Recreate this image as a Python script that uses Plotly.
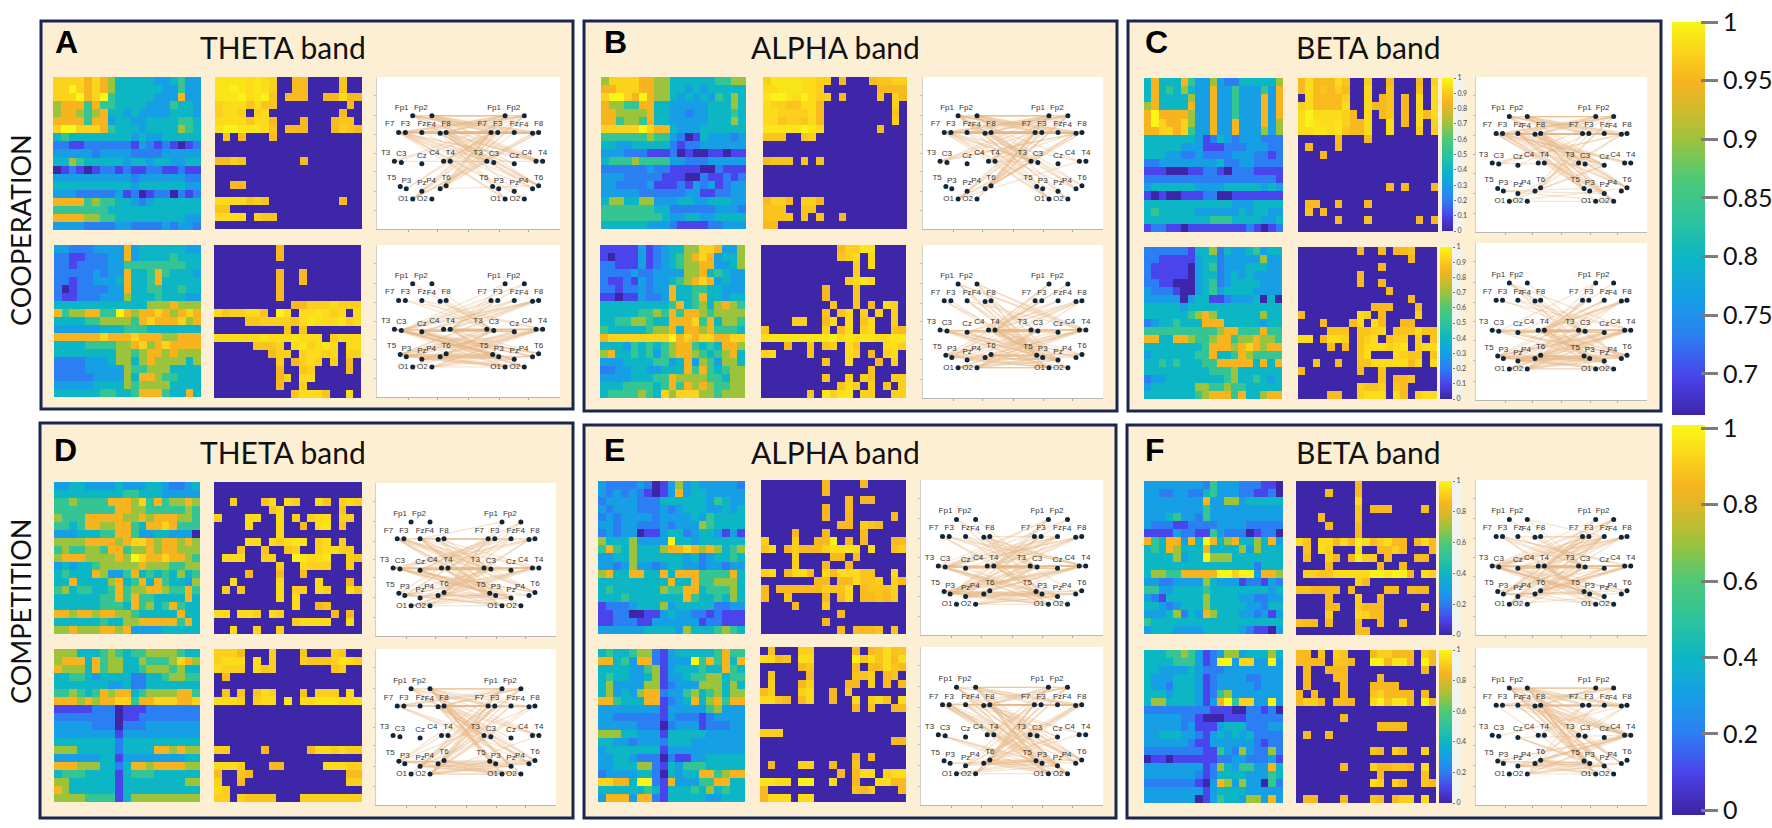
import plotly.graph_objects as go

W, H = 1772, 828

ELECTRODES = ["Fp1","Fp2","F7","F3","Fz","F4","F8","T3","C3","Cz","C4","T4","T5","P3","Pz","P4","T6","O1","O2"]
ELEC_X = [0.195,0.300,0.118,0.155,0.245,0.345,0.378,0.095,0.133,0.245,0.364,0.400,0.127,0.160,0.245,0.345,0.378,0.195,0.300]
ELEC_Y = [0.745,0.745,0.635,0.635,0.635,0.630,0.635,0.445,0.438,0.430,0.445,0.445,0.280,0.265,0.248,0.265,0.285,0.198,0.198]
ELEC_LABEL_POS = ["top left","top left","top left","top center","top center","top left","top center","top left","top center","top center","top left","top center","top left","top center","top center","top left","top center","middle left","middle left"]
RIGHT_SHIFT = 0.505

A_top_values = ["8888787644444334533","8898787644444433533","8889789544444333733","6777575544443335443","6776567443433334443","7777577344334444554","8998887544434444654","4544444444343344444","2211222222132121012","3333323333222233333","4465444443443443344","0121012212112211211","3333333333233333322","4444444444344444433","3332222231201220212","7777565544323444444","5555555444444444444","7777665544444444433","3333222233222232332"]
A_top_mask = ["1111111100110000100","1111111100110000100","1111111101110011111","1111111100000000010","1111011000000000100","1111111100010001110","1111111101110001111","0101000100000000000","0000000000000000000","0000000000000000000","1111000000010000000","0000000000000000000","0000000000000000000","0011000000000000000","0000000000000000000","1111111000000000100","1100000000000000000","1111011100000000000","0000000000000000000"]
A_bot_values = ["3322233337344444433","2211222337344445444","2212222335555555544","2222232337445754443","2212233347445744444","2012222337445544544","2112223336444544433","4444444444446667666","7566775597677876787","4444556666578777867","3333334445554444444","7777778777877766777","4444555566786787777","4444444466567767666","2222333466467666646","2222333336556664444","2222233336477655444","3333344446566664444","4444445544577754474"]
A_bot_mask = ["0000000010000000000","0000000010000000000","0000000000000000000","0000000010010000000","0000000010010000000","0000000010000000000","0000000010000000000","0000000000111111111","1111111011011111101","0000111111111111111","0000000001010000000","1111111111111101111","0000011110111111011","0000000111011111011","0000000010111101010","0000000010011000010","0000000011011000000","0000000010010000000","0000000000111110010"]

B_top_values = ["6888877664444445566","7788877664434344444","8998797664343435464","7665577443333344464","7766667443323344454","7756657443333344464","8888898774333444444","5555556553201433323","4433444442122333333","3332221112010011011","4555655553322233333","2222223221111002111","3332222211100211212","3322223111213231233","3333322222233112233","4664466333443344433","5555555442222223332","5555555543344334444","4444443332111122333"]
B_top_mask = ["1111111110100011111","1111111100000001111","1111111110100001011","1111111100000000010","1111111100000000010","1111111100000000010","1111111100000001000","1110011000000000000","0000000000000000000","0000000000000000000","1111010100000000000","0000000000000000000","0000000000000000000","0000000000000000000","0000000000000000000","1111011100000000000","1110011000000000000","1111010100100000000","1100000000000000000"]
B_bot_values = ["1111131234466887336","1011131234567873446","2211131234566773346","2222322333366745433","2112132334567873433","2212232337445544333","1101132237445744344","4444444445745646765","4444455657577656666","4455665447778574665","5444445667477675554","7888888889787887788","4443545456775454776","6744545356776545674","3334444553473653664","2233443344475754566","3333444557666655466","4445555457576765566","4555565486888665666"]
B_bot_mask = ["0000000000111110000","0000000000111010000","0000000000001010000","0000000000001000000","0000000000011110000","0000000010001000000","0000000010001000000","0000000001001010110","0000000010110101010","0000110011010110010","1000000010110110011","1111111111111111111","0001001011011000111","1100001000011010110","0000000010010001010","0000000000000010000","0000000010010110011","0000000000111010101","0000001011110110011"]

C_top_values = ["4744475336322444446","4745464337335333537","4744446337335333737","6744447337335333737","7977776337335333737","7987786337337333736","7788785337337333636","4444444312432333222","4444433311122233322","4443322322223332212","2233333333422332222","1110001122102221111","2222222222222222221","3444444333344444343","1010011122001111111","4444444444443334444","4544444333333434433","4444444445554444334","1221101111111121012"]
C_top_mask = ["1111111001001000101","1111111001001000101","0111111001011010101","1111111001111010101","1111111101011010111","1111111111001010101","1111111111001000101","0000010001000000000","0100010000000000000","0001000000000000000","0000000000000000000","0000000000000000000","0000000000000000000","0000000000001010001","0000000000000000000","0110010001000000000","0101000000000000000","0000010001000000101","0000000000000000000"]
C_bot_values = ["2222221446243345344","2211111344233333633","2111110345233344433","2111110344234343333","2211000345234444333","3222100345344443333","3333303441123334040","4444434444444444444","4444445676444444644","2344544477744444344","5555555555677555755","7744776556775667665","4444444457776787677","3444444557445765555","4454544455777774747","4444444445556444444","2334444444456445434","3444444665565544444","4444444567775744677"]
C_bot_mask = ["0000000010010111000","0000000000000001000","0000000000010000000","0000000010000000000","0000000010010000000","0000000000001000000","0000000000000001000","0000000000111000100","1000000011010000100","0001000110110011000","0000111011110111111","1101111011101110101","0000101011111110111","0000000011000111101","0010010011111111101","1000000010010000000","0000000000010111000","0000000011110110000","0000110011110110111"]

D_top_values = ["3344333343334432234","4444444445544433333","5565555777685756676","5555555577665555565","6555777776676777665","5545776677547787555","3334445577533443330","6666777767887677676","5655665775667677666","6777666676987787765","3434456666676665566","4544476335745454645","4474444674574754436","5645544575667765575","4444445575755444474","4444445554756457544","7767767766544444744","4444445446677777574","6676667767333344444"]
D_top_mask = ["0000000000000000000","0000000000000000000","0010001101100110111","0000000110000000100","1000110010101110110","0000100010010110100","0000000010000000000","0000110111110110100","0001001001100111110","0111001100111110011","0000000010011110010","0000100010010000000","0010000010000100010","0101000010110110011","0000000010100000000","0000000000100110000","1101110110000001010","0000000000111110010","0010010010000000000"]
D_bot_values = ["6664445654556666544","6777475664465556876","7666475664456665644","4455434444224456655","4444444334224444444","5565457677456666775","7776767788577888778","1111122201112222222","2222222201122222222","3333322202223333333","3333333313333333333","4444444424444444444","6664444424444776766","3333334413333333344","7776664424776777766","4555444414555444444","6644444414444444466","7644444414444444444","6666555514666666666"]
D_bot_mask = ["1111000100010001100","1111010100011111111","1111011100000001100","0100000000000000000","0000000000000000000","0101011100010111010","1111011101011111111","0000000000000000000","0000000000000000000","0000000000000000000","0000000000000000000","0000000000000000000","1100001000001111111","0000000000000000000","1111000110000011111","1001100000000000011","1001000000000000011","1100000000000000000","1101111100011111111"]

E_top_values = ["3222232013634333332","3232321013734433333","2333322244444435433","3233322232344433434","2323333233334354444","3323322232333654444","2323301134423443131","6444633339443444444","5754644467787676456","3344644444434234454","3323633234433233233","6744774474777555574","4444444447447556664","4544444465577455564","4445444444475445464","1222344463444442233","1122001134332212111","1122211333333122111","3333334444364445654"]
E_top_mask = ["0000000010000100000","0000000010000000000","0000000000010110000","0000000010010000000","0000000010010000010","0000000000110111000","0000100010000100000","1000100111010100011","1101111111111010011","0000100001101000000","0000100010010000000","1101111011111110010","0000000110111111011","1011111111110111110","1001000010110111110","0000100010000000000","0000000000100000000","0000000010000000000","0000000000101111010"]
E_bot_values = ["4544566213444445755","7745377213339575747","4444335613444544754","4544334613345566455","4633336612333666464","4634367723356456466","7754447712347467577","3333333313333356333","3322222213222123333","3333322202333122233","6664433314444433333","4433233324443333333","3444444413333333333","3344322202113344444","3344466214355544444","2333344204344775677","8877499217333557744","4444445414445464544","3777377214444433444"]
E_bot_mask = ["0100011000001011111","1111011000001111111","0000011000001011111","0100001000001110110","0100011000011010101","1100011001010000000","1111011001001011101","0000000000001010011","0000000000000000000","0000000000000000000","1110000000000000000","0000000000000000011","0000000000000000000","0000000000001010000","0100011001001000000","0000000000101110111","1111011001001001111","1000000000001110001","1111011000000000000"]

F_top_values = ["3333333325333222110","3322332245333221120","3333333373366344444","3333333353333333333","3334533253333333333","3222112222333322222","1111322115322201220","7547737497467446473","4547644474444636444","4444634496664444444","4444444444444442444","4665577777998993776","3322333364333122132","5533444454444444434","3214444464444332233","4432344464444433244","3334624376444332313","5444444444444444444","3444333344444321103"]
F_top_mask = ["0000000010000000000","0000100010000000000","0000000010000000000","0000000010111000010","0001000010000000000","0000100010000000000","0000000010000000000","1101111111111110111","0101100010011110001","0100110111101000110","0000100000010010000","0111111111111111011","0000000011000000000","1111110100001101110","0000100010010000000","0000110011110000010","0000100011110000000","1110100010010010000","0000000011000000000"]
F_bot_values = ["4445565312366344464","4444555312993883393","4433334322233333333","4333444312333322333","4332444312333332333","4443444312563333333","4664444313795883393","2222222221110022120","3333322100011122222","3333323111344422233","3344433213434342222","3333332113333332122","2222222211532632262","0110111111223322231","3333333312643553374","3333333212444433354","2222222103763633052","3333333313444433333","3333333013544366373"]
F_bot_mask = ["1101011000111111011","1111011100111111011","0100111000000000010","0100011000010000000","0100001000111100000","1010001000111111010","1111011100111111011","0000000000000000000","0000001000000000000","0000000000011110000","0100100000000000000","0000000000000000000","0000000000110110010","0000000000000000000","0000001000111111010","0000000000010000010","0000000000110110011","0000000000000000000","0110001000110111010"]

COLORBAR_TOP_TICKS = [1, 0.95, 0.9, 0.85, 0.8, 0.75, 0.7]
COLORBAR_TOP_LABELS = ["1", "0.95", "0.9", "0.85", "0.8", "0.75", "0.7"]
COLORBAR_BOT_TICKS = [1, 0.8, 0.6, 0.4, 0.2, 0]
COLORBAR_BOT_LABELS = ["1", "0.8", "0.6", "0.4", "0.2", "0"]
MINI_TICKS = [1, 0.9, 0.8, 0.7, 0.6, 0.5, 0.4, 0.3, 0.2, 0.1, 0]
MINI_TICKS_SPARSE = [1, 0.8, 0.6, 0.4, 0.2, 0]

LEVELS = [0.0, 0.10, 0.20, 0.30, 0.40, 0.52, 0.70, 0.85, 0.92, 1.0]
PARULA = [[0.00,"#3e26a8"],[0.10,"#4a44ec"],[0.20,"#2c7ff2"],[0.30,"#179fe6"],[0.40,"#0cb6c4"],[0.50,"#2ec39a"],
          [0.60,"#4fc878"],[0.70,"#9cc33c"],[0.78,"#d3b92c"],[0.85,"#f7b41f"],[0.92,"#fbd21c"],[1.00,"#f9f615"]]

PANELS = [
 dict(name="A", band="THETA band", box=(41,21,573,409), tx=283, ty=47, lx=53, ly=42,
      rows=[dict(v=A_top_values,m=A_top_mask,h1=(53,77,201,230),h2=(215,77,362,229),net=(377,77,560,229)),
            dict(v=A_bot_values,m=A_bot_mask,h1=(54,245,201,397),h2=(214,245,361,398),net=(377,245,560,397))]),
 dict(name="B", band="ALPHA band", box=(584,21,1117,411), tx=835, ty=47, lx=602, ly=42,
      rows=[dict(v=B_top_values,m=B_top_mask,h1=(601,77,746,229),h2=(763,77,907,229),net=(923,77,1103,229)),
            dict(v=B_bot_values,m=B_bot_mask,h1=(600,245,745,398),h2=(761,245,906,398),net=(923,245,1103,398))]),
 dict(name="C", band="BETA band", box=(1128,21,1661,411), tx=1368, ty=47, lx=1143, ly=42,
      rows=[dict(v=C_top_values,m=C_top_mask,h1=(1144,78,1283,232),h2=(1298,78,1438,232),net=(1476,77,1647,232)),
            dict(v=C_bot_values,m=C_bot_mask,h1=(1144,247,1282,399),h2=(1298,247,1437,399),net=(1476,243,1647,400))]),
 dict(name="D", band="THETA band", box=(40,423,573,818), tx=283, ty=452, lx=52, ly=450,
      rows=[dict(v=D_top_values,m=D_top_mask,h1=(54,482,200,634),h2=(214,482,362,634),net=(376,483,556,636)),
            dict(v=D_bot_values,m=D_bot_mask,h1=(54,649,200,802),h2=(214,649,362,802),net=(376,649,556,805))]),
 dict(name="E", band="ALPHA band", box=(584,425,1116,818), tx=835, ty=452, lx=602, ly=450,
      rows=[dict(v=E_top_values,m=E_top_mask,h1=(598,481,745,634),h2=(761,480,906,634),net=(921,480,1103,635)),
            dict(v=E_bot_values,m=E_bot_mask,h1=(598,649,745,802),h2=(760,647,906,802),net=(921,647,1103,805))]),
 dict(name="F", band="BETA band", box=(1127,425,1661,818), tx=1368, ty=452, lx=1143, ly=450,
      rows=[dict(v=F_top_values,m=F_top_mask,h1=(1144,481,1283,634),h2=(1296,481,1436,635),net=(1476,480,1647,635)),
            dict(v=F_bot_values,m=F_bot_mask,h1=(1144,650,1283,803),h2=(1296,650,1436,803),net=(1476,648,1647,805))]),
]
MINI_BARS = [(1442,78,1453,231,MINI_TICKS),(1440,247,1452,399,MINI_TICKS),(1439,481,1452,635,MINI_TICKS_SPARSE),(1439,650,1452,803,MINI_TICKS_SPARSE)]

fig = go.Figure()
layout = {}
shapes = []
annotations = []
axis_n = 0


def new_axes(box, xr, yr, **yextra):
    global axis_n
    axis_n += 1
    s = "" if axis_n == 1 else str(axis_n)
    x0, y0, x1, y1 = box
    layout["xaxis" + s] = dict(domain=[x0/W, x1/W], range=xr, visible=False, anchor="y" + s, fixedrange=True)
    ya = dict(domain=[1-y1/H, 1-y0/H], range=yr, visible=False, anchor="x" + s, fixedrange=True)
    ya.update(yextra)
    layout["yaxis" + s] = ya
    return "x" + s, "y" + s


def rect(x0, y0, x1, y1, fill, line=None, lw=0):
    shapes.append(dict(type="rect", xref="paper", yref="paper", x0=x0/W, x1=x1/W, y0=1-y1/H, y1=1-y0/H,
                       fillcolor=fill, line=dict(color=line or fill, width=lw), layer="below"))


def text(x, y, s, size, family="Lato", color="#111111", angle=0, weight=None, xanchor="center"):
    f = dict(size=size, family=family, color=color)
    if weight:
        f["weight"] = weight
    annotations.append(dict(xref="paper", yref="paper", x=x/W, y=1-y/H, text=s, showarrow=False, font=f,
                            textangle=angle, xanchor=xanchor, yanchor="middle"))


def heat(box, z):
    xa, ya = new_axes(box, [-0.5, 18.5], [18.5, -0.5])
    fig.add_trace(go.Heatmap(z=z, xaxis=xa, yaxis=ya, colorscale=PARULA, zmin=0, zmax=1, showscale=False, hoverinfo="skip"))


def net(box, mask):
    xa, ya = new_axes(box, [0, 1], [0, 1])
    layout[xa.replace("x", "xaxis")].update(visible=True, showgrid=False, zeroline=False, showticklabels=False,
        showline=True, linecolor="#b8b8b8", linewidth=1, ticks="outside", ticklen=2, tickcolor="#aaaaaa", tickvals=[0.17,0.33,0.5,0.67,0.83])
    layout[ya.replace("y", "yaxis")].update(visible=True, showgrid=False, zeroline=False, showticklabels=False,
        showline=True, linecolor="#d0d0d0", linewidth=1, ticks="outside", ticklen=2, tickcolor="#bbbbbb", tickvals=[0.12,0.25,0.38,0.5,0.62,0.75,0.88])
    ex, ey = [], []
    for r, row in enumerate(mask):
        for c, ch in enumerate(row):
            if ch == "1":
                ex += [ELEC_X[r], ELEC_X[c] + RIGHT_SHIFT, None]
                ey += [ELEC_Y[r], ELEC_Y[c], None]
    fig.add_trace(go.Scatter(x=ex, y=ey, xaxis=xa, yaxis=ya, mode="lines", hoverinfo="skip",
                             line=dict(color="rgba(232,185,135,0.38)", width=1.3)))
    fig.add_trace(go.Scatter(x=ELEC_X + [v + RIGHT_SHIFT for v in ELEC_X], y=ELEC_Y + ELEC_Y, xaxis=xa, yaxis=ya,
                             mode="markers+text", hoverinfo="skip", text=ELECTRODES + ELECTRODES,
                             textposition=ELEC_LABEL_POS + ELEC_LABEL_POS,
                             textfont=dict(size=8, family="Liberation Sans", color="#333333"),
                             marker=dict(size=5, color="#10263a")))


def bar(box, rmin, rmax, cmin, cmax, ticks, labels, tickpx, tick_len, tick_w, font_size, tick_col, font_col):
    n = 120
    levels = [rmin + (rmax - rmin) * i / n for i in range(n + 1)]
    fracs = [[min(1, max(0, (v - cmin) / (cmax - cmin)))] for v in levels]
    xa, ya = new_axes(box, [0, 1], [rmin, rmax])
    layout[ya.replace("y", "yaxis")].update(visible=True, showgrid=False, zeroline=False, showline=False,
        side="right", anchor="free", position=tickpx/W, tickvals=ticks, ticktext=labels, ticks="outside",
        ticklen=tick_len, tickwidth=tick_w, tickcolor=tick_col, tickfont=dict(size=font_size, family="Lato", color=font_col))
    fig.add_trace(go.Heatmap(z=fracs, x=[0, 1], y=levels, xaxis=xa, yaxis=ya, colorscale=PARULA, zmin=0, zmax=1,
                             showscale=False, hoverinfo="skip"))


for p in PANELS:
    x0, y0, x1, y1 = p["box"]
    rect(x0, y0, x1, y1, "#fcefd4", "#1a2650", 3)
    text(p["tx"], p["ty"], p["band"], 30)
    text(p["lx"], p["ly"], p["name"], 32, family="Liberation Sans", color="#000000", weight="bold", xanchor="left")
    for row in p["rows"]:
        vals = [[LEVELS[int(ch)] for ch in s] for s in row["v"]]
        on = [[max(0.86, 0.89 + 0.025 * (int(d) - 5)) if m == "1" else 0 for d, m in zip(vs, ms)] for vs, ms in zip(row["v"], row["m"])]
        heat(row["h1"], vals)
        heat(row["h2"], on)
        nx0, ny0, nx1, ny1 = row["net"]
        rect(nx0, ny0, nx1, ny1, "#ffffff")
        net(row["net"], row["m"])

for (x0, y0, x1, y1, t) in MINI_BARS:
    rect(x1, y0 - 1, x1 + 10, y1 + 1, "#f2f2ee")
    bar((x0, y0, x1, y1), 0, 1, 0, 1, t, [f"{v:g}" for v in t], x1, 2, 1, 7, "#777777", "#444444")

bar((1672, 22, 1705, 415), 0.665, 1.0, 0.665, 1.0, COLORBAR_TOP_TICKS, COLORBAR_TOP_LABELS, 1700, 17, 3, 25, "#7d7d7d", "#111111")
bar((1672, 425, 1705, 815), -0.012, 1.008, 0.0, 1.0, COLORBAR_BOT_TICKS, COLORBAR_BOT_LABELS, 1700, 17, 3, 25, "#7d7d7d", "#111111")

text(20, 230, "COOPERATION", 27, angle=-90)
text(20, 612, "COMPETITION", 27, angle=-90)

fig.update_layout(width=W, height=H, autosize=False, margin=dict(l=0, r=0, t=0, b=0, autoexpand=False), showlegend=False,
                  paper_bgcolor="#ffffff", plot_bgcolor="rgba(0,0,0,0)", shapes=shapes, annotations=annotations, **layout)
fig.write_html("out.html", post_script="document.body.style.margin='0';", config={"displayModeBar": False})
